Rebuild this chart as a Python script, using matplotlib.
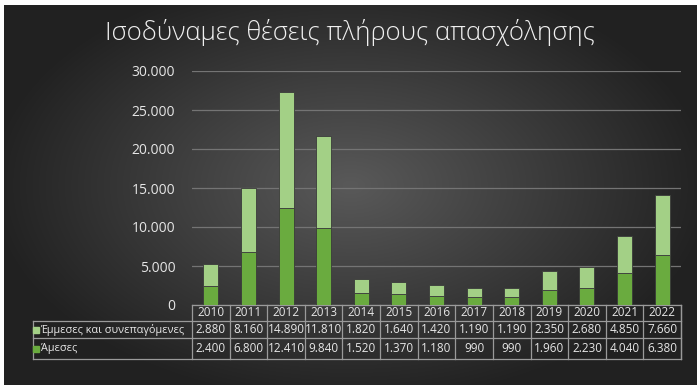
import numpy as np
import matplotlib.pyplot as plt
from matplotlib.transforms import blended_transform_factory

plt.rcParams['font.family'] = ['Open Sans', 'DejaVu Sans']

years = ['2010', '2011', '2012', '2013', '2014', '2015', '2016',
         '2017', '2018', '2019', '2020', '2021', '2022']
amesses = [2400, 6800, 12410, 9840, 1520, 1370, 1180, 990, 990, 1960, 2230, 4040, 6380]
emmeses = [2880, 8160, 14890, 11810, 1820, 1640, 1420, 1190, 1190, 2350, 2680, 4850, 7660]
series_names = ['Έμμεσες και συνεπαγόμενες', 'Άμεσες']
title = 'Ισοδύναμες θέσεις πλήρους απασχόλησης'

dark_green = '#6aab3f'
light_green = '#a3d086'
txt = '#e6e6e6'
line_c = '#9a9a9a'


def fmt(v):
    return '{:,}'.format(v).replace(',', '.')


fig = plt.figure(figsize=(7, 3.9), dpi=100, facecolor='white')

# radial grey gradient background
bg = fig.add_axes([4 / 700, 5 / 390, 693 / 700, 380 / 390])
gx, gy = np.meshgrid(np.linspace(-1, 1, 400), np.linspace(-1, 1, 220))
r = np.sqrt((gx / 1.0) ** 2 + ((gy + 0.05) / 1.1) ** 2)
shade = np.clip(0.35 - 0.21 * r, 0.13, 0.35)
bg.imshow(np.dstack([shade] * 3), aspect='auto', extent=[0, 1, 0, 1], interpolation='bicubic')
bg.set_axis_off()

ax = fig.add_axes([192 / 700, 1 - 305 / 390, 489 / 700, 234 / 390])
ax.patch.set_alpha(0)
x = np.arange(len(years))
ax.bar(x, amesses, width=0.4, color=dark_green, edgecolor='#3a3a3a', linewidth=0.6, zorder=3)
ax.bar(x, emmeses, width=0.4, bottom=amesses, color=light_green,
       edgecolor='#3a3a3a', linewidth=0.6, zorder=3)
ax.set_xlim(-0.5, len(years) - 0.5)
ax.set_ylim(0, 30000)
ax.set_yticks(np.arange(0, 30001, 5000))
ax.set_yticklabels([fmt(v) for v in range(0, 30001, 5000)], color=txt, fontsize=10)
ax.tick_params(axis='y', length=0, pad=12)
ax.set_xticks([])
ax.grid(axis='y', color='#747474', linewidth=0.9, zorder=0)
for s in ax.spines.values():
    s.set_visible(False)

fig.text(0.5, 1 - 32 / 390, title, ha='center', va='center', color='#f0f0f0',
         fontsize=18.5, fontweight='light')

# data table below the axis
tr = blended_transform_factory(ax.transData, ax.transAxes)
px = 1 / 234
y_head, y_r1, y_r2, y_r3 = 0, -16 * px, -33 * px, -54 * px
lab_left = -0.5 - 159 / 489 * len(years)
right = len(years) - 0.5
kw = dict(transform=tr, color=line_c, lw=0.9, clip_on=False)
ax.plot([-0.5, right], [y_head, y_head], **kw)
for yy in (y_r1, y_r2, y_r3):
    ax.plot([lab_left, right], [yy, yy], **kw)
for i in range(len(years) + 1):
    ax.plot([i - 0.5, i - 0.5], [y_head, y_r3], **kw)
ax.plot([lab_left, lab_left], [y_r1, y_r3], **kw)
ax.plot([right, right], [y_head, y_r3], **kw)

for i, yr in enumerate(years):
    ax.text(i, (y_head + y_r1) / 2, yr, transform=tr, ha='center', va='center',
            color=txt, fontsize=8.5)
    ax.text(i, (y_r1 + y_r2) / 2, fmt(emmeses[i]), transform=tr, ha='center', va='center',
            color=txt, fontsize=8.5)
    ax.text(i, (y_r2 + y_r3) / 2, fmt(amesses[i]), transform=tr, ha='center', va='center',
            color=txt, fontsize=8.5)

key_x = lab_left + 0.08
for name, col, (ya, yb) in zip(series_names, [light_green, dark_green],
                              [(y_r1, y_r2), (y_r2, y_r3)]):
    ym = (ya + yb) / 2
    ax.plot([key_x], [ym], marker='s', markersize=5, color=col, transform=tr, clip_on=False)
    ax.text(key_x + 0.12, ym, name, transform=tr, ha='left', va='center',
            color=txt, fontsize=7.8)

fig.savefig('out.png', dpi=100, facecolor='white')
